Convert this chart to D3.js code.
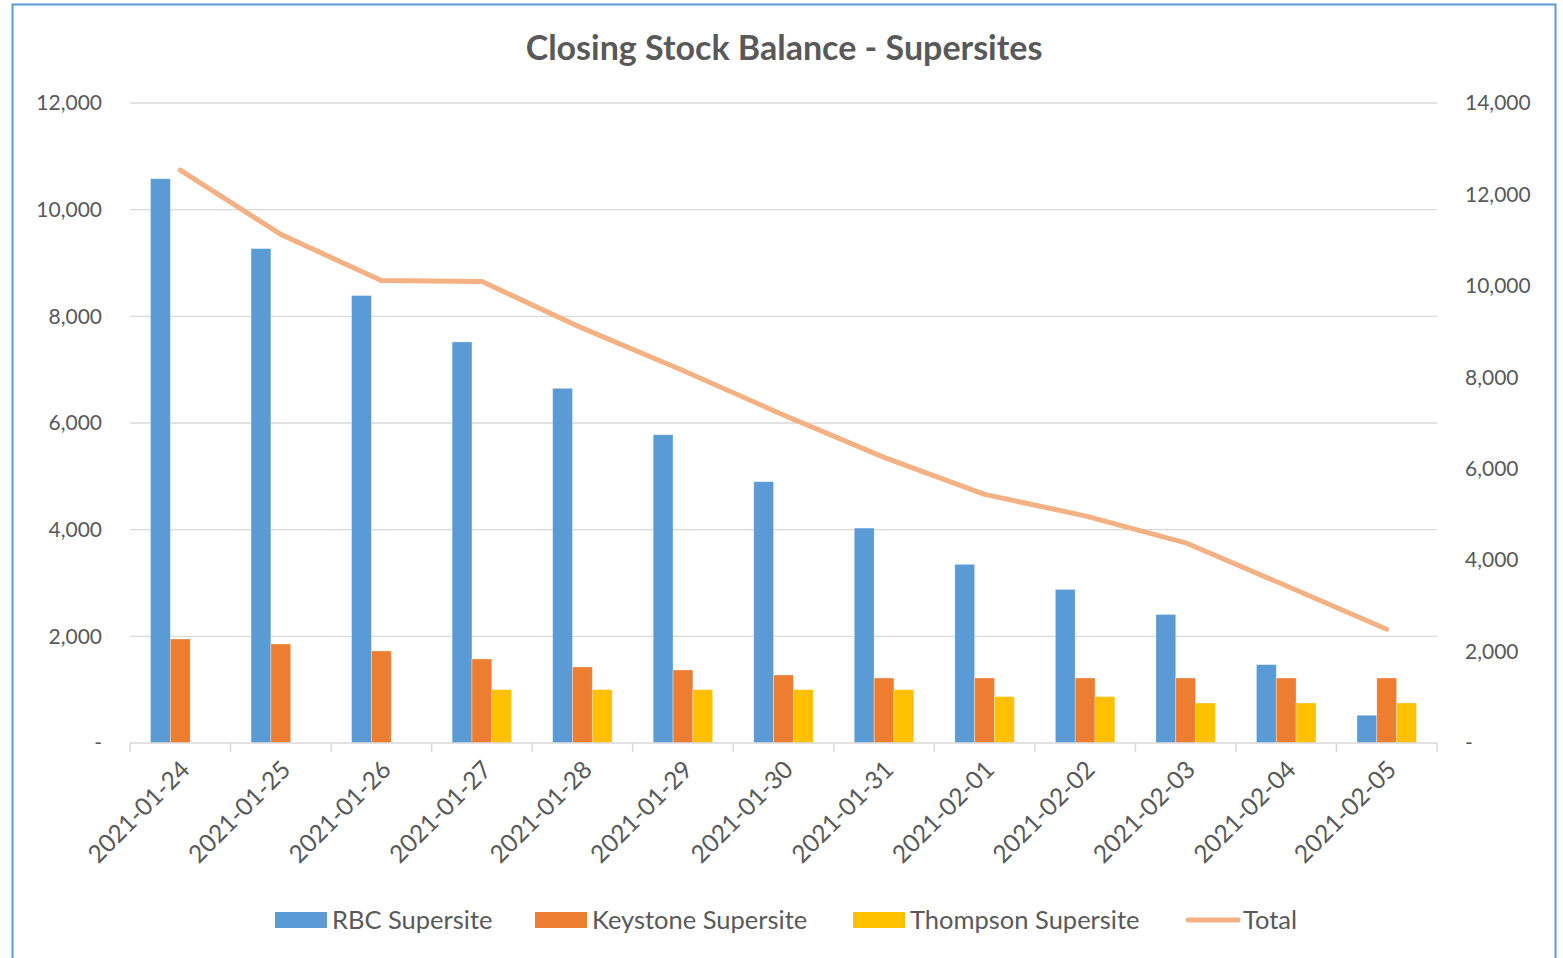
<!DOCTYPE html>
<html>
<head>
<meta charset="utf-8">
<script src="https://cdn.jsdelivr.net/npm/d3@7"></script>
<style>
body { margin: 0; background: #fff; }
text { font-family: Lato, "Open Sans", sans-serif; fill: #595959; }
</style>
</head>
<body>
<script>
var w = 1563;
var h = 958;

var dates = ["2021-01-24", "2021-01-25", "2021-01-26", "2021-01-27", "2021-01-28",
             "2021-01-29", "2021-01-30", "2021-01-31", "2021-02-01", "2021-02-02",
             "2021-02-03", "2021-02-04", "2021-02-05"];
var rbc = [10580, 9270, 8390, 7520, 6650, 5780, 4900, 4030, 3350, 2880, 2410, 1470, 520];
var keystone = [1950, 1856, 1725, 1575, 1425, 1369, 1275, 1219, 1219, 1219, 1219, 1219, 1219];
var thompson = [0, 0, 0, 1000, 1000, 1000, 1000, 1000, 870, 870, 750, 750, 750];
var total = [12530, 11126, 10115, 10095, 9075, 8149, 7175, 6249, 5439, 4969, 4379, 3439, 2489];
var leftTicks = [0, 2000, 4000, 6000, 8000, 10000, 12000];
var rightTicks = [0, 2000, 4000, 6000, 8000, 10000, 12000, 14000];
var seriesNames = ["RBC Supersite", "Keystone Supersite", "Thompson Supersite", "Total"];
var colors = ["#5B9BD5", "#ED7D31", "#FFC000", "#F4B183"];

var plotL = 130, plotR = 1437, plotT = 103, plotB = 743;

var svg = d3.select("body")
            .append("svg")
            .attr("width", w)
            .attr("height", h);

// chart border
svg.append("rect")
    .attr("x", 12.5).attr("y", 4.5)
    .attr("width", 1543).attr("height", 970)
    .attr("fill", "none")
    .attr("stroke", "#5B9BD5")
    .attr("stroke-width", 2);

var xScale = d3.scaleBand()
    .domain(dates)
    .range([plotL, plotR]);

var inner = d3.scaleBand()
    .domain([0, 1, 2])
    .range([0, 59.5]);

var yLeft = d3.scaleLinear().domain([0, 12000]).range([plotB, plotT]);
var yRight = d3.scaleLinear().domain([0, 14000]).range([plotB, plotT]);

var fmt = function(d) { return d === 0 ? "-" : d3.format(",")(d); };

// gridlines
svg.append("g")
    .selectAll("line")
    .data(leftTicks.slice(1))
    .enter()
    .append("line")
    .attr("x1", plotL).attr("x2", plotR)
    .attr("y1", function(d) { return yLeft(d); })
    .attr("y2", function(d) { return yLeft(d); })
    .attr("stroke", "#D9D9D9")
    .attr("stroke-width", 1.3);

// left axis
var yAxisL = d3.axisLeft(yLeft).tickValues(leftTicks).tickFormat(fmt).tickSize(0).tickPadding(28);
var gl = svg.append("g")
    .attr("transform", "translate(" + plotL + ",0)")
    .call(yAxisL);
gl.select(".domain").remove();
gl.selectAll("text").attr("font-size", "21px").style("fill", "#595959");

// right axis
var yAxisR = d3.axisRight(yRight).tickValues(rightTicks).tickFormat(fmt).tickSize(0).tickPadding(28);
var gr = svg.append("g")
    .attr("transform", "translate(" + plotR + ",0)")
    .call(yAxisR);
gr.select(".domain").remove();
gr.selectAll("text").attr("font-size", "21px").style("fill", "#595959");

// bars
var groups = [rbc, keystone, thompson];
groups.forEach(function(vals, si) {
    svg.append("g")
        .selectAll("rect")
        .data(vals)
        .enter()
        .append("rect")
        .attr("x", function(d, i) {
            return xScale(dates[i]) + xScale.bandwidth() / 2 - 29.75 + inner(si);
        })
        .attr("y", function(d) { return yLeft(d); })
        .attr("width", inner.bandwidth())
        .attr("height", function(d) { return plotB - yLeft(d); })
        .attr("fill", colors[si])
        .attr("stroke", "#fff")
        .attr("stroke-opacity", 0.4)
        .attr("stroke-width", 0.8);
});

// x axis
svg.append("line")
    .attr("x1", plotL).attr("x2", plotR)
    .attr("y1", plotB).attr("y2", plotB)
    .attr("stroke", "#D9D9D9").attr("stroke-width", 1.5);

svg.append("g")
    .selectAll("line")
    .data(dates.concat(["end"]))
    .enter()
    .append("line")
    .attr("x1", function(d, i) { return plotL + i * xScale.step(); })
    .attr("x2", function(d, i) { return plotL + i * xScale.step(); })
    .attr("y1", plotB).attr("y2", plotB + 9)
    .attr("stroke", "#D9D9D9").attr("stroke-width", 1.5);

svg.append("g")
    .selectAll("text")
    .data(dates)
    .enter()
    .append("text")
    .attr("transform", function(d) {
        return "translate(" + (xScale(d) + xScale.bandwidth() / 2 - 1) + "," + (plotB + 16) + ") rotate(-45)";
    })
    .attr("text-anchor", "end")
    .attr("dy", "0.7em")
    .attr("font-size", "24.5px")
    .text(function(d) { return d; });

// total line
var line = d3.line()
    .x(function(d, i) { return xScale(dates[i]) + xScale.bandwidth() / 2; })
    .y(function(d) { return yRight(d); });

svg.append("path")
    .datum(total)
    .attr("d", line)
    .attr("fill", "none")
    .attr("stroke", colors[3])
    .attr("stroke-width", 5)
    .attr("stroke-linecap", "round")
    .attr("stroke-linejoin", "round");

// title
svg.append("text")
    .attr("x", 784).attr("y", 60)
    .attr("text-anchor", "middle")
    .attr("font-size", "34px")
    .attr("font-weight", "bold")
    .text("Closing Stock Balance - Supersites");

// legend
var legendX = [275, 535, 853, 1186];
var lg = svg.append("g");
seriesNames.forEach(function(name, i) {
    if (i < 3) {
        lg.append("rect")
            .attr("x", legendX[i]).attr("y", 912)
            .attr("width", 52).attr("height", 16)
            .attr("fill", colors[i]);
    } else {
        lg.append("line")
            .attr("x1", legendX[i] + 2).attr("x2", legendX[i] + 52)
            .attr("y1", 920).attr("y2", 920)
            .attr("stroke", colors[i])
            .attr("stroke-width", 5)
            .attr("stroke-linecap", "round");
    }
    lg.append("text")
        .attr("x", legendX[i] + 57).attr("y", 929)
        .attr("font-size", "25.5px")
        .text(name);
});
</script>
</body>
</html>
